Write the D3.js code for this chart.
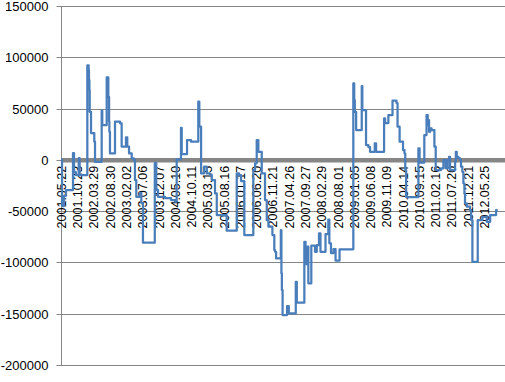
<!DOCTYPE html>
<html><head><meta charset="utf-8">
<script src="https://cdn.jsdelivr.net/npm/d3@7"></script>
<style>
html,body{margin:0;padding:0;background:#fff;}
svg{display:block;font-family:"Liberation Sans",Arial,sans-serif;}
</style></head>
<body>
<svg id="chart" width="505" height="382"></svg>
<script>
// Category labels shown on the x axis (one every 110 trading days)
const xLabels = ["2001.05.22","2001.10.23","2002.03.29","2002.08.30","2003.02.02","2003.07.06",
  "2003.12.07","2004.05.10","2004.10.11","2005.03.15","2005.08.16","2006.01.17","2006.06.20",
  "2006.11.21","2007.04.26","2007.09.27","2008.02.29","2008.08.01","2009.01.05","2009.06.08",
  "2009.11.09","2010.04.14","2010.09.15","2011.02.16","2011.07.20","2011.12.21","2012.05.25"];
const labelEvery = 110;
const totalPoints = 2953;
// Y axis ticks
const yTicks = [150000,100000,50000,0,-50000,-100000,-150000,-200000];
// Series: index of the trading day where the level changes, and the new level
const changeIdx = [0,7,20,34,81,88,101,120,126,178,187,189,192,194,203,225,230,275,279,309,320,325,327,331,
  365,399,410,439,448,460,478,492,500,509,532,543,554,634,644,656,703,744,771,782,811,816,852,879,928,935,
  947,967,985,1007,1019,1041,1053,1120,1188,1203,1217,1239,1300,1312,1323,1334,1357,1379,1391,1402,1429,
  1442,1447,1454,1486,1490,1493,1498,1528,1540,1587,1594,1645,1653,1665,1672,1692,1717,1729,1744,1754,
  1788,1807,1814,1825,1842,1856,1883,1976,1982,1986,1995,2033,2037,2062,2078,2089,2121,2130,2184,2191,
  2213,2241,2268,2275,2289,2312,2322,2327,2333,2416,2424,2456,2471,2479,2483,2488,2495,2505,2524,2533,
  2569,2585,2601,2614,2623,2630,2664,2669,2675,2686,2698,2704,2713,2720,2727,2731,2743,2765,2772,2781,
  2817,2849,2878,2901,2941,2952];
const changeVal = [0,-45000,-35000,-29500,6600,-12000,-14800,1800,-14800,92000,87600,77800,68100,46900,26100,
  17700,-1900,47900,33900,80500,61500,37200,27400,6300,37200,35600,12800,21900,12800,6300,1500,0,-19700,
  -36000,-32100,-42100,-80800,-3100,-29500,-36000,-37300,-39200,-40700,500,31300,5700,19300,17700,56700,
  32300,-13200,-6700,-13200,-14800,-19700,-32700,-53800,-69100,-13200,-14800,-20700,-73300,-9900,-3400,
  19300,7900,-13200,-39200,-58700,-65200,-73300,-88000,-89600,-96100,-68500,-110700,-127000,-151300,
  -142600,-149700,-118900,-139200,-79900,-101600,-84700,-120400,-83600,-89600,-83100,-71700,-89600,
  -72400,-58200,-81400,-90900,-87000,-98200,-87200,74600,58300,46900,29100,72000,48600,14400,12500,7900,
  16100,7900,40500,35900,43700,57800,55400,32300,17700,9600,6100,-9900,-36300,11200,-2600,24200,43700,
  33900,38800,27400,30700,29100,12800,-9900,-8300,-200,-8300,-200,3000,-9900,-1900,7900,3000,1500,-200,
  -6700,-11600,-22900,-32700,-42400,-45700,-49000,-58700,-99400,-58700,-55500,-60400,-53800,-49000,-49000];

const series = changeIdx.map((d,i)=>({i:d, v:changeVal[i]}));

const svg = d3.select("#chart");
const plot = {left:61, top:6, bottom:365, right:505, dataRight:497.7};

const x = d3.scaleLinear().domain([0,totalPoints-1]).range([plot.left, plot.dataRight]);
const y = d3.scaleLinear().domain([-200000,150000]).range([plot.bottom, plot.top]);

// gridlines
svg.append("g").selectAll("line").data(yTicks).join("line")
  .attr("x1",plot.left).attr("x2",plot.right)
  .attr("y1",d=>Math.round(y(d))+0.5).attr("y2",d=>Math.round(y(d))+0.5)
  .attr("stroke","#868686").attr("stroke-width",1);

// y axis
const yAxis = svg.append("g").attr("transform",`translate(${plot.left+0.5},0)`)
  .call(d3.axisLeft(y).tickValues(yTicks).tickSize(5).tickPadding(8).tickFormat(d=>String(d)));
yAxis.select(".domain").attr("stroke","#868686").attr("d",`M0,${plot.top}V${plot.bottom+0.5}`);
yAxis.selectAll(".tick line").attr("stroke","#868686");
yAxis.selectAll(".tick").attr("transform",d=>`translate(0,${Math.round(y(d))+0.5})`);
yAxis.selectAll("text").attr("font-size","13px").attr("fill","#000")
  .attr("font-family","'Liberation Sans',Arial,sans-serif");

// zero (category) axis - thick gray
svg.append("line").attr("x1",plot.left).attr("x2",plot.right)
  .attr("y1",y(0)+0.5).attr("y2",y(0)+0.5)
  .attr("stroke","#868686").attr("stroke-width",4.5);

// x axis labels
const labelIdx = xLabels.map((d,k)=>k*labelEvery);
const xAxis = svg.append("g").attr("transform",`translate(0,${y(0)})`)
  .call(d3.axisBottom(x).tickValues(labelIdx).tickSize(0).tickFormat((d,k)=>xLabels[k]));
xAxis.select(".domain").remove();
xAxis.selectAll("text")
  .attr("font-size","12.5px").attr("fill","#000")
  .attr("font-family","'Liberation Sans',Arial,sans-serif")
  .attr("text-anchor","end").attr("transform","translate(0,6) rotate(-90)")
  .attr("x",0).attr("y",0).attr("dy","0.35em");

// series line
const line = d3.line().x(d=>x(d.i)).y(d=>y(d.v)).curve(d3.curveStepAfter);
svg.append("path").datum(series).attr("d",line)
  .attr("fill","none").attr("stroke","#4a7ebb").attr("stroke-width",2.25)
  .attr("stroke-linejoin","round");
</script>
</body></html>
